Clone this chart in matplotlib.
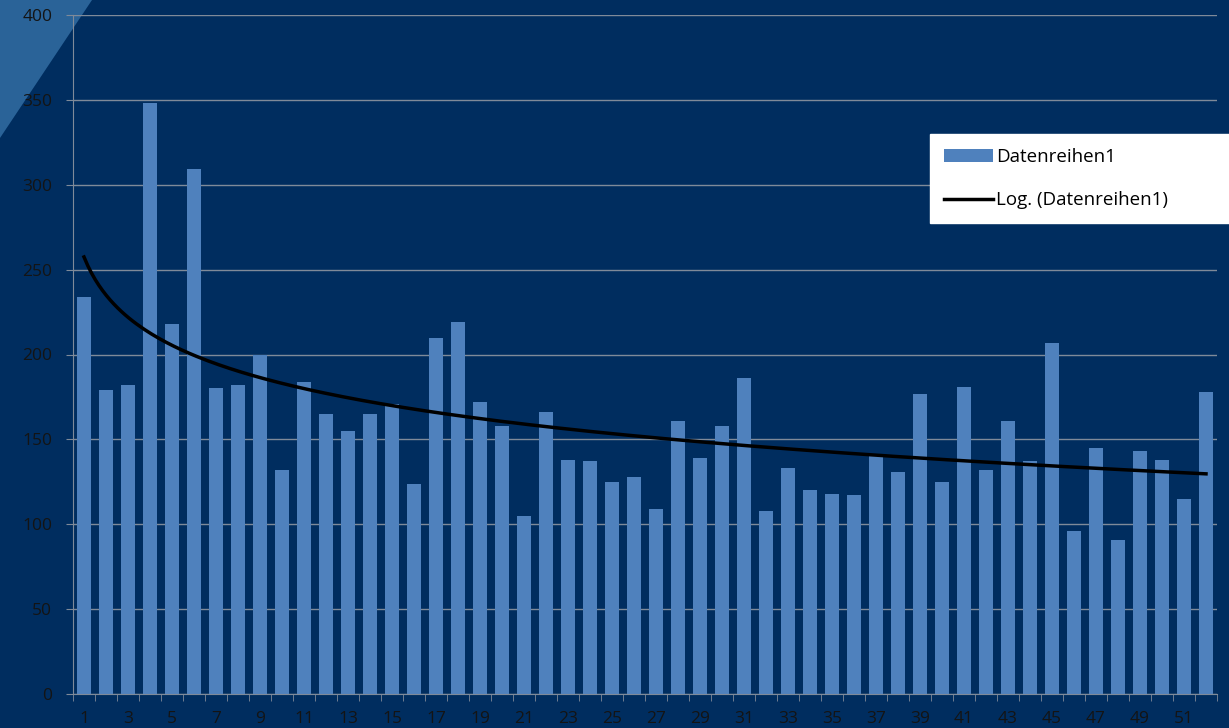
import numpy as np
import matplotlib
matplotlib.use("Agg")
import matplotlib.pyplot as plt
from matplotlib.patches import Polygon

# weekly values
wochen = list(range(1, 53))
werte = [234, 179, 182, 348, 218, 309, 180, 182, 200, 132,
         184, 165, 155, 165, 171, 124, 210, 219, 172, 158,
         105, 166, 138, 137, 125, 128, 109, 161, 139, 158,
         186, 108, 133, 120, 118, 117, 140, 131, 177, 125,
         181, 132, 161, 137, 207, 96, 145, 91, 143, 138,
         115, 178]
x_labels = [str(w) if w % 2 == 1 else "" for w in wochen]

NAVY = "#002D5F"
BAR = "#4F81BD"

plt.rcParams["font.family"] = ["Open Sans", "DejaVu Sans"]

fig = plt.figure(figsize=(12.29, 7.28), dpi=100, facecolor=NAVY)

# decorative light band in the top-left corner
band = Polygon([(0, 1), (92 / 1229, 1), (0, 1 - 138 / 728)], closed=True,
               transform=fig.transFigure, facecolor="#2A6398", edgecolor="none",
               zorder=-1)
fig.patches.append(band)

ax = fig.add_axes([73 / 1229, 34 / 728, (1217 - 73) / 1229, (694 - 15) / 728])
ax.set_facecolor("none")

x = np.array(wochen)
y = np.array(werte)
bars = ax.bar(x, y, width=0.62, color=BAR, label="Datenreihen1", zorder=2)

# logarithmic trend line like Excel's "Log." trendline
b, a = np.polyfit(np.log(x), y, 1)
xs = np.linspace(1, 52, 300)
trend, = ax.plot(xs, a + b * np.log(xs), color="black", lw=2.5,
                 label="Log. (Datenreihen1)", zorder=3)

ax.set_xlim(0.5, 52.5)
ax.set_ylim(0, 400)
ax.set_yticks(range(0, 401, 50))
ax.yaxis.grid(True, color="#7F8A99", lw=1, zorder=1)
ax.set_axisbelow(True)

ax.set_xticks(x)
ax.set_xticklabels(x_labels)
ax.set_xticks(np.arange(0.5, 53, 1), minor=True)
ax.tick_params(axis="x", which="major", length=0, pad=12,
               labelsize=12.5, labelcolor="#141414")
ax.tick_params(axis="x", which="minor", length=5, color="#7F8A99")
ax.tick_params(axis="y", length=5, color="#7F8A99", labelsize=12.5,
               labelcolor="#141414", pad=10)

for side in ["top", "right"]:
    ax.spines[side].set_visible(False)
for side in ["left", "bottom"]:
    ax.spines[side].set_color("#7F8A99")

leg = ax.legend([bars, trend], ["Datenreihen1", "Log. (Datenreihen1)"],
                loc="upper left",
                bbox_to_anchor=(930 / 1229, 1 - 218 / 728, 299 / 1229, 84 / 728),
                bbox_transform=fig.transFigure, mode="expand", borderaxespad=0,
                frameon=True, fancybox=False, fontsize=13.5, handlelength=2.6,
                handletextpad=0.15, labelspacing=1.35, borderpad=0.75)
leg.get_frame().set_facecolor("white")
leg.get_frame().set_edgecolor("white")
leg.get_frame().set_alpha(1)

fig.savefig("out.png", dpi=100, facecolor=NAVY)
